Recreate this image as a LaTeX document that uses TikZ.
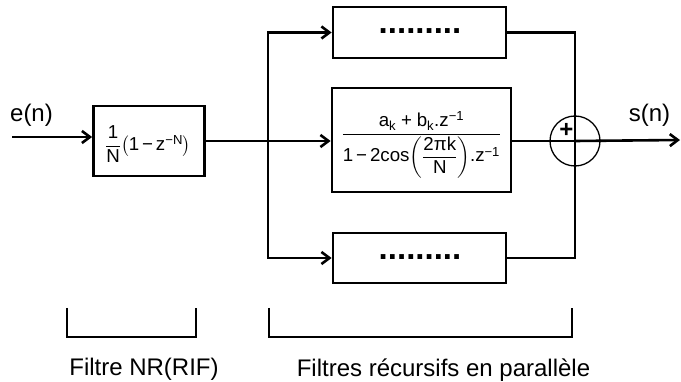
\documentclass[tikz,border=0pt]{standalone}
\usepackage{amsmath}
\usepackage{fontspec}
\setmainfont{Liberation Sans}
\usetikzlibrary{arrows.meta}

\begin{document}
\begin{tikzpicture}[x=1pt,y=-1pt,line width=2.6pt,
  blk/.style={draw,rectangle,inner sep=0pt,line width=2.8pt},
  arr/.style={-{Straight Barb[length=8pt,width=12pt]}},
  lbl/.style={font=\fontsize{24}{28}\selectfont,inner sep=0pt,anchor=base},
  formula/.style={font=\fontsize{18.7}{22}\selectfont,inner sep=0pt},
  dots/.style={font=\fontsize{33}{36}\selectfont\bfseries,inner sep=0pt,anchor=base}]
\useasboundingbox (0,0) rectangle (681,382);

% blocks
\node[blk,minimum width=111pt,minimum height=70pt] (fir) at (149,141) {};
\node[formula] (firtxt) at (148,144)
  {$\dfrac{\text{1}}{\text{N}}\!\left(\text{1}\,\text{−}\,\text{z}^{\text{−N}}\right)$};

\node[blk,minimum width=173pt,minimum height=51pt] (top) at (419.5,32.5) {};
\node[dots] (toptxt) at (420,34) {.........};

\node[blk,minimum width=179pt,minimum height=104pt] (mid) at (421.5,140) {};
\node[formula] (midtxt) at (421.5,145)
  {$\dfrac{\text{a}_{\text{k}}\;\text{+}\;\text{b}_{\text{k}}\text{.z}^{\text{−1}}}
          {\text{1}\,\text{−}\,\text{2cos}\!\left(\dfrac{\text{2πk}}{\text{N}}\right)\!\text{.z}^{\text{−1}}}$};

\node[blk,minimum width=173pt,minimum height=50pt] (bot) at (419.5,258) {};
\node[dots] (bottxt) at (420,259.5) {.........};

% summing junction
\node[draw,circle,line width=1.3pt,minimum size=50pt,inner sep=0pt] (sum) at (575,141) {};
\node[font=\fontsize{24}{26}\selectfont\bfseries,inner sep=0pt] (plus) at (566.5,130) {+};

% signal labels
\node[lbl] (ein) at (31.5,122) {e(n)};
\node[lbl] (sout) at (649.5,122) {s(n)};

% connectors
\coordinate (in) at (12,137);
\coordinate (split) at (268,141);
\coordinate (out) at (680,140);

\draw[arr] (in) -- (in -| fir.west);
\draw (fir.east |- split) -- (split);
\draw[arr] (split) -- (split -| mid.west);
\draw[arr] (split) |- (top.west);
\draw[arr] (split) |- (bot.west);
\draw (top.east) -| (sum.center);
\draw (sum.center) |- (bot.east);
\draw (mid.east |- sum.center) -- (sum.center);
\draw[arr] (sum.center) -- (out);

% brackets
\draw (67,308) |- (196,337) -- (196,308);
\draw (269,308) |- (572,337) -- (572,308);

\node[lbl] (firlbl) at (144,376) {Filtre NR(RIF)};
\node[lbl] (reclbl) at (443.5,377) {Filtres récursifs en parallèle};
\end{tikzpicture}
\end{document}
